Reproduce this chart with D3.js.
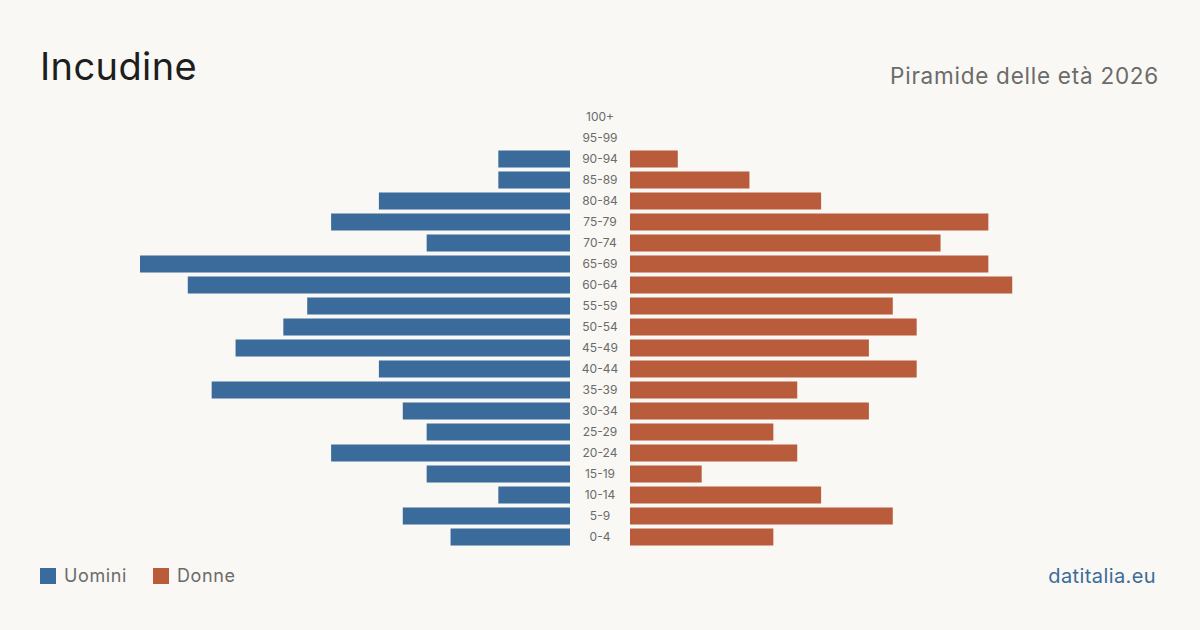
<!DOCTYPE html>
<html>
<head>
<meta charset="utf-8">
<title>Incudine</title>
<script src="https://cdn.jsdelivr.net/npm/d3@7"></script>
<style>
  body { margin: 0; background: #f9f8f4; }
  text { font-family: Inter, "Noto Sans", sans-serif; }
</style>
</head>
<body>
<script>
// fasce d'età dall'alto verso il basso
var ages = ["100+", "95-99", "90-94", "85-89", "80-84", "75-79", "70-74", "65-69", "60-64",
            "55-59", "50-54", "45-49", "40-44", "35-39", "30-34", "25-29", "20-24",
            "15-19", "10-14", "5-9", "0-4"];
var uomini = [0, 0, 3, 3, 8, 10, 6, 18, 16, 11, 12, 14, 8, 15, 7, 6, 10, 6, 3, 7, 5];
var donne  = [0, 0, 2, 5, 8, 15, 13, 15, 16, 11, 12, 10, 12, 7, 10, 6, 7, 3, 8, 11, 6];

var w = 1200, h = 630;
var svg = d3.select("body").append("svg")
            .attr("width", w)
            .attr("height", h);

svg.append("rect")
   .attr("width", w).attr("height", h)
   .attr("fill", "#f9f8f4");

var maxV = d3.max(uomini.concat(donne));
var xL = d3.scaleLinear().domain([0, maxV]).range([570, 140]);
var xR = d3.scaleLinear().domain([0, maxV]).range([630, 1060]);
var y = d3.scaleBand().domain(ages).range([106.5, 547.5]).paddingInner(0.19).paddingOuter(0.095);

// barre uomini
svg.selectAll("rect.m")
   .data(ages)
   .enter()
   .append("rect")
   .attr("class", "m")
   .attr("x", function(d, i) { return xL(uomini[i]); })
   .attr("y", function(d) { return y(d); })
   .attr("width", function(d, i) { return xL(0) - xL(uomini[i]); })
   .attr("height", y.bandwidth())
   .attr("fill", "#3b6b9b");

// barre donne
svg.selectAll("rect.f")
   .data(ages)
   .enter()
   .append("rect")
   .attr("class", "f")
   .attr("x", xR(0))
   .attr("y", function(d) { return y(d); })
   .attr("width", function(d, i) { return xR(donne[i]) - xR(0); })
   .attr("height", y.bandwidth())
   .attr("fill", "#b95c3c");

// etichette centrali
svg.selectAll("text.age")
   .data(ages)
   .enter()
   .append("text")
   .attr("class", "age")
   .attr("x", 600)
   .attr("y", function(d) { return y(d) + y.bandwidth() / 2; })
   .attr("dy", "0.35em")
   .attr("text-anchor", "middle")
   .attr("font-size", 12)
   .attr("fill", "#6b6b6b")
   .text(function(d) { return d; });

// titoli
svg.append("text")
   .attr("x", 40).attr("y", 80)
   .attr("font-size", 38)
   .attr("letter-spacing", 0.4)
   .attr("fill", "#1e1e1e")
   .text("Incudine");

svg.append("text")
   .attr("x", 1159).attr("y", 84)
   .attr("text-anchor", "end")
   .attr("font-size", 22.5)
   .attr("letter-spacing", 0.75)
   .attr("fill", "#6b6b6b")
   .text("Piramide delle età 2026");

// legenda
var legend = [{label: "Uomini", color: "#3b6b9b", x: 40}, {label: "Donne", color: "#b95c3c", x: 153}];
var lg = svg.selectAll("g.legend")
   .data(legend)
   .enter()
   .append("g")
   .attr("transform", function(d) { return "translate(" + d.x + ",568)"; });
lg.append("rect")
  .attr("width", 16).attr("height", 16)
  .attr("fill", function(d) { return d.color; });
lg.append("text")
  .attr("x", 24).attr("y", 8)
  .attr("dy", "0.35em")
  .attr("font-size", 18)
  .attr("letter-spacing", 0.6)
  .attr("fill", "#6b6b6b")
  .text(function(d) { return d.label; });

svg.append("text")
   .attr("x", 1156).attr("y", 583)
   .attr("text-anchor", "end")
   .attr("font-size", 20)
   .attr("letter-spacing", 0.4)
   .attr("fill", "#3b6b9b")
   .text("datitalia.eu");
</script>
</body>
</html>
